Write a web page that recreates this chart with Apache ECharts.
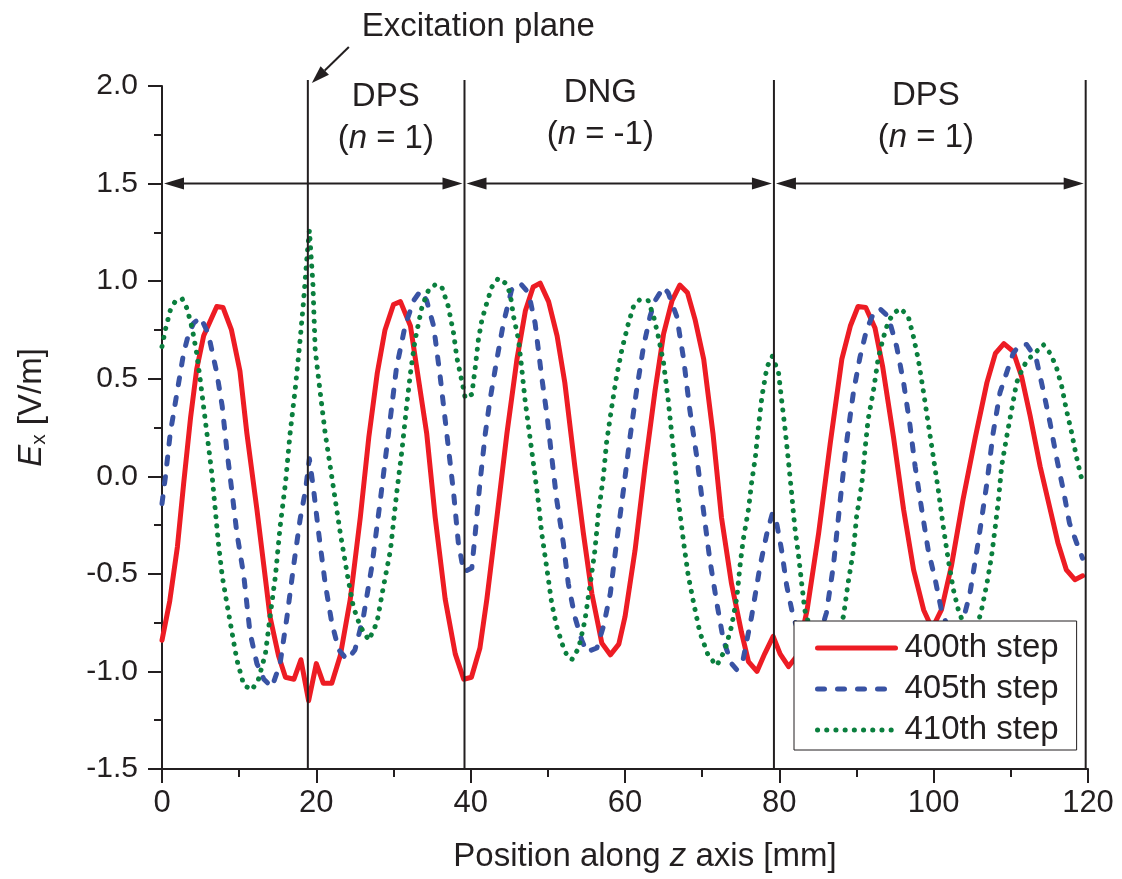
<!DOCTYPE html>
<html><head><meta charset="utf-8">
<script src="https://cdn.jsdelivr.net/npm/echarts@6/dist/echarts.min.js"></script>
<style>html,body{margin:0;padding:0;background:#fff}#c{width:1122px;height:879px}</style>
</head><body><div id="c"></div>
<script>
// ---------- data ----------
const step400 = [[0,-0.84],[1.0,-0.64],[2.0,-0.36],[2.8,-0.04],[3.7,0.30],[4.5,0.55],[5.4,0.72],[6.3,0.80],[7.1,0.87],[7.9,0.865],[9.0,0.75],[10.1,0.54],[11.0,0.22],[12.3,-0.17],[13.2,-0.46],[14.0,-0.72],[15.1,-0.92],[16.0,-1.03],[17.1,-1.04],[18.0,-0.94],[19.0,-1.15],[20.0,-0.96],[20.9,-1.06],[22.0,-1.06],[23.1,-0.92],[24.4,-0.63],[25.7,-0.21],[26.8,0.20],[27.9,0.53],[28.9,0.75],[30.0,0.88],[30.9,0.895],[32.2,0.77],[33.0,0.56],[34.3,0.22],[35.4,-0.21],[36.7,-0.63],[38.0,-0.91],[39.1,-1.04],[40.1,-1.03],[41.2,-0.88],[42.1,-0.63],[43.4,-0.21],[44.7,0.22],[46.0,0.60],[47.1,0.85],[48.1,0.97],[49.0,0.99],[50.1,0.895],[51.2,0.72],[52.2,0.48],[53.5,0.05],[54.6,-0.29],[55.7,-0.60],[57.0,-0.855],[58.1,-0.915],[59.2,-0.86],[60.0,-0.72],[61.3,-0.38],[62.6,0.05],[63.9,0.44],[65.0,0.73],[66.1,0.90],[67.1,0.98],[68.1,0.94],[69.1,0.80],[70.2,0.60],[71.4,0.22],[72.5,-0.21],[73.8,-0.55],[75.1,-0.80],[76.0,-0.95],[77.1,-1.00],[78.1,-0.91],[79.2,-0.82],[80.1,-0.91],[81.2,-0.975],[82.3,-0.92],[83.6,-0.685],[85.1,-0.29],[86.6,0.17],[88.1,0.60],[89.2,0.77],[90.2,0.87],[91.2,0.865],[92.4,0.76],[93.4,0.56],[94.8,0.20],[96.1,-0.17],[97.4,-0.48],[98.7,-0.685],[99.8,-0.78],[101.0,-0.685],[102.3,-0.46],[103.8,-0.12],[105.4,0.20],[106.9,0.48],[108.0,0.63],[109.1,0.68],[110.3,0.64],[111.4,0.51],[112.5,0.31],[113.8,0.05],[115.1,-0.17],[116.1,-0.34],[117.2,-0.48],[118.3,-0.53],[119.3,-0.51]];

const step405 = [[0,-0.14],[0.45,0.0],[1.07,0.22],[1.95,0.43],[2.8,0.63],[3.45,0.73],[4.1,0.785],[5.0,0.815],[6.0,0.73],[7.1,0.53],[7.8,0.36],[8.4,0.135],[9.1,-0.09],[9.7,-0.29],[10.6,-0.51],[11.4,-0.80],[12.3,-0.96],[13.2,-1.04],[14.25,-1.08],[15.3,-0.96],[16.2,-0.72],[17.05,-0.46],[17.9,-0.22],[18.6,-0.07],[19.1,0.09],[19.65,-0.07],[20.3,-0.29],[21.15,-0.55],[22.0,-0.75],[22.9,-0.89],[24.0,-0.94],[25.0,-0.89],[26.1,-0.72],[27.2,-0.46],[28.3,-0.12],[29.35,0.22],[30.4,0.56],[31.5,0.77],[32.6,0.90],[33.5,0.95],[34.3,0.90],[35.2,0.77],[36.05,0.51],[36.9,0.22],[37.8,-0.09],[38.4,-0.34],[39.1,-0.49],[40.15,-0.47],[40.6,-0.29],[41.2,-0.035],[41.9,0.22],[42.5,0.39],[43.4,0.60],[44.25,0.785],[45.3,0.955],[46.4,0.99],[47.5,0.94],[48.35,0.785],[49.2,0.51],[49.9,0.31],[50.5,0.10],[51.15,-0.12],[52.0,-0.34],[52.65,-0.55],[53.5,-0.72],[54.4,-0.84],[55.05,-0.90],[56.35,-0.88],[57.2,-0.77],[58.1,-0.60],[58.9,-0.34],[59.8,-0.07],[60.65,0.20],[61.5,0.44],[62.4,0.665],[63.25,0.82],[63.9,0.90],[65.0,0.97],[65.6,0.94],[66.7,0.82],[67.6,0.60],[68.4,0.34],[69.3,0.10],[70.15,-0.17],[71.0,-0.43],[71.9,-0.65],[72.75,-0.84],[73.8,-0.96],[74.45,-0.99],[75.3,-0.94],[76.4,-0.72],[77.5,-0.46],[78.4,-0.29],[79.1,-0.19],[79.65,-0.24],[80.3,-0.38],[80.95,-0.56],[81.8,-0.72],[82.7,-0.82],[83.7,-0.87],[84.8,-0.84],[85.5,-0.78],[86.1,-0.70],[87.0,-0.46],[87.9,-0.12],[88.7,0.17],[89.6,0.43],[90.45,0.61],[91.3,0.75],[92.2,0.835],[93.0,0.86],[94.1,0.82],[95.2,0.665],[96.1,0.48],[96.9,0.27],[97.6,0.05],[98.45,-0.17],[99.3,-0.38],[100.2,-0.53],[101.0,-0.685],[101.8,-0.77],[102.8,-0.80],[103.8,-0.74],[104.7,-0.60],[105.8,-0.33],[106.9,-0.035],[107.7,0.22],[108.6,0.43],[109.45,0.53],[110.3,0.63],[111.2,0.675],[112.05,0.675],[113.3,0.60],[114.2,0.44],[115.1,0.27],[115.9,0.10],[116.8,-0.07],[117.6,-0.24],[118.7,-0.36],[119.3,-0.42]];

const step410 = [[0,0.665],[0.43,0.75],[1.07,0.85],[1.7,0.895],[2.6,0.91],[3.24,0.86],[3.9,0.76],[4.5,0.63],[5.0,0.48],[5.6,0.29],[6.04,0.15],[6.5,0.0],[6.9,-0.17],[7.3,-0.34],[7.8,-0.51],[8.4,-0.65],[9.07,-0.80],[9.7,-0.94],[10.6,-1.07],[11.65,-1.095],[12.5,-1.04],[13.4,-0.91],[14.0,-0.72],[14.7,-0.51],[15.3,-0.26],[16.0,-0.035],[16.6,0.22],[17.3,0.46],[17.9,0.70],[18.35,0.90],[18.8,1.13],[19.1,1.26],[19.55,0.99],[19.85,0.65],[20.5,0.43],[21.15,0.22],[21.8,0.05],[22.45,-0.12],[23.1,-0.29],[24.0,-0.50],[24.8,-0.67],[25.7,-0.77],[26.8,-0.84],[27.85,-0.75],[28.7,-0.565],[29.6,-0.38],[30.4,-0.09],[31.1,0.135],[31.7,0.36],[32.2,0.53],[32.8,0.70],[33.7,0.87],[34.55,0.955],[35.5,0.985],[36.3,0.965],[37.1,0.87],[37.8,0.73],[38.2,0.61],[38.85,0.49],[39.3,0.40],[40.15,0.42],[40.6,0.56],[41.0,0.70],[41.45,0.80],[42.1,0.89],[42.75,0.97],[43.6,1.015],[44.5,0.99],[45.1,0.94],[45.55,0.82],[46.2,0.70],[46.6,0.56],[47.05,0.39],[47.5,0.255],[47.9,0.135],[48.35,0.0],[48.8,-0.14],[49.2,-0.29],[49.9,-0.48],[50.5,-0.65],[51.15,-0.77],[52.2,-0.90],[53.1,-0.94],[54.0,-0.88],[54.8,-0.74],[55.5,-0.55],[56.1,-0.38],[56.55,-0.19],[57.2,0.0],[57.6,0.17],[58.3,0.36],[58.9,0.51],[59.6,0.65],[60.45,0.785],[61.1,0.87],[61.9,0.905],[63.0,0.90],[63.7,0.82],[64.3,0.72],[65.0,0.58],[65.6,0.39],[66.1,0.20],[66.5,0.05],[66.9,-0.12],[67.6,-0.34],[68.2,-0.51],[68.9,-0.65],[69.7,-0.80],[70.8,-0.92],[71.9,-0.97],[72.95,-0.89],[73.8,-0.77],[74.5,-0.62],[74.9,-0.46],[75.3,-0.33],[76.0,-0.17],[76.4,-0.035],[76.9,0.10],[77.3,0.255],[77.75,0.41],[78.4,0.56],[79.1,0.615],[79.9,0.53],[80.3,0.39],[80.75,0.24],[81.2,0.07],[81.6,-0.09],[82.0,-0.26],[82.5,-0.41],[82.9,-0.55],[83.3,-0.685],[84.0,-0.78],[85.0,-0.84],[86.2,-0.86],[87.3,-0.80],[88.3,-0.72],[88.9,-0.55],[89.6,-0.38],[90.0,-0.21],[90.7,-0.035],[91.1,0.135],[91.5,0.29],[92.2,0.44],[92.8,0.60],[93.4,0.70],[94.1,0.79],[94.8,0.835],[95.7,0.86],[96.7,0.82],[97.35,0.72],[98.0,0.60],[98.65,0.44],[99.3,0.27],[99.95,0.10],[100.6,-0.07],[101.25,-0.26],[101.9,-0.43],[102.55,-0.58],[103.2,-0.685],[104.0,-0.77],[105.0,-0.80],[105.7,-0.76],[106.2,-0.685],[106.9,-0.55],[107.5,-0.41],[107.95,-0.27],[108.4,-0.12],[108.8,0.05],[109.45,0.20],[110.1,0.34],[110.75,0.48],[111.6,0.56],[112.25,0.60],[113.1,0.63],[114.2,0.675],[115.1,0.63],[115.9,0.56],[116.6,0.46],[117.2,0.34],[117.9,0.22],[118.5,0.10],[119.0,0.015],[119.3,-0.03]];

const seriesNames = ['400th step','405th step','410th step'];
const excitationZ = 18.9;
const interfaces = [39.2, 79.3, 119.7];
const arrowSpans = [[0,39.2],[39.2,79.3],[79.3,119.7]];
const arrowLevel = 1.5;
const regionNames = ['DPS','DNG','DPS'];
const regionIndex = ['1','-1','1'];
const regionCenterZ = [29.0, 56.8, 99.0];
const xTicks = {min:0, max:120, interval:20};
const yTicks = {min:-1.5, max:2.0, interval:0.5};

// ---------- styles ----------
const INK = '#231f20';
const FONT = '"Liberation Sans", Arial, Helvetica, sans-serif';
const COLORS = ['#ed1c24', '#3953a4', '#0a7f3e'];
const DASHES = ['solid', [7,13], [0.1,9.1]];

const chart = echarts.init(document.getElementById('c'), null, {renderer:'canvas'});

function axisCommon(){
  return {
    axisLine:{show:true, onZero:false, lineStyle:{color:INK, width:2}},
    axisTick:{show:true, inside:false, length:14, lineStyle:{color:INK, width:2}},
    minorTick:{show:true, splitNumber:2, length:8, lineStyle:{color:INK, width:2}},
    splitLine:{show:false}, minorSplitLine:{show:false}
  };
}

const datasets = [step400, step405, step410];

chart.setOption({
  animation:false,
  backgroundColor:'#fff',
  grid:{left:162, right:34, top:86, bottom:110, containLabel:false},
  xAxis:Object.assign({type:'value', min:xTicks.min, max:xTicks.max, interval:xTicks.interval,
    axisLabel:{fontSize:31, color:INK, fontFamily:FONT, margin:19}}, axisCommon()),
  yAxis:Object.assign({type:'value', min:yTicks.min, max:yTicks.max, interval:yTicks.interval,
    axisLabel:{fontSize:30, color:INK, fontFamily:FONT, margin:24, formatter:v=>v.toFixed(1)}}, axisCommon()),
  legend:{
    orient:'vertical', left:794, top:621,
    padding:[7,18,0,21], itemGap:1, itemWidth:78, itemHeight:20,
    backgroundColor:'#fff', borderColor:INK, borderWidth:1,
    textStyle:{fontSize:33, color:INK, fontFamily:FONT, lineHeight:40, padding:[0,0,0,4]},
    itemStyle:{color:'rgba(0,0,0,0)', borderWidth:0, opacity:0},
    lineStyle:{width:5, cap:'round'},
    data:seriesNames.map((n,i)=>({name:n, lineStyle:{width:5, color:COLORS[i], type:DASHES[i], cap:'round'}})),
    z:10
  },
  series:seriesNames.map((n,i)=>({
    name:n, type:'line', data:datasets[i], symbol:'none', showSymbol:false, z:3,
    lineStyle:{color:COLORS[i], width:5, type:DASHES[i], cap:'round', join:'round'},
    itemStyle:{color:COLORS[i]}
  }))
});

function P(x,y){ return chart.convertToPixel({gridIndex:0},[x,y]); }

function buildGraphics(){
  const g = [];
  const yTop = P(0, yTicks.max)[1];
  const yBot = P(0, yTicks.min)[1];
  // vertical boundary lines
  [excitationZ].concat(interfaces).forEach(b=>{
    const x = P(b,0)[0];
    g.push({type:'line', z:50, shape:{x1:x, y1:yBot, x2:x, y2:yTop-6}, style:{stroke:INK, lineWidth:2}});
  });
  // double-headed arrows
  const L = 20, W = 6;
  arrowSpans.forEach(s=>{
    const a = P(s[0], arrowLevel), b = P(s[1], arrowLevel);
    const xa = a[0]+2, xb = b[0]-2, y = a[1];
    g.push({type:'line', z:50, shape:{x1:xa+L-2, y1:y, x2:xb-L+2, y2:y}, style:{stroke:INK, lineWidth:2}});
    g.push({type:'polygon', z:50, shape:{points:[[xa,y],[xa+L,y-W],[xa+L,y+W]]}, style:{fill:INK}});
    g.push({type:'polygon', z:50, shape:{points:[[xb,y],[xb-L,y-W],[xb-L,y+W]]}, style:{fill:INK}});
  });
  // region labels
  const nameDy = [11, 7, 10], idxDy = [53, 49, 52];
  regionNames.forEach((nm,i)=>{
    const cx = P(regionCenterZ[i],0)[0];
    g.push({type:'text', z:50, style:{x:cx, y:yTop+nameDy[i], text:nm, fill:INK, font:'33px '+FONT, textAlign:'center', textVerticalAlign:'middle'}});
    g.push({type:'text', z:50, style:{x:cx, y:yTop+idxDy[i], text:'({i|n} = '+regionIndex[i]+')', fill:INK, font:'33px '+FONT,
      textAlign:'center', textVerticalAlign:'middle',
      rich:{i:{fontStyle:'italic', fontSize:33, fontFamily:FONT, fill:INK}}}});
  });
  // excitation plane annotation
  const ex = P(excitationZ,0)[0];
  const tip = [ex+4, yTop-3];
  const tail = [tip[0]+37, tip[1]-36];
  const dx = tail[0]-tip[0], dy = tail[1]-tip[1], len = Math.hypot(dx,dy);
  const ux = dx/len, uy = dy/len, AL = 18, AW = 6;
  const bx = tip[0]+ux*AL, by = tip[1]+uy*AL;
  g.push({type:'line', z:50, shape:{x1:bx, y1:by, x2:tail[0], y2:tail[1]}, style:{stroke:INK, lineWidth:2}});
  g.push({type:'polygon', z:50, shape:{points:[tip,[bx-uy*AW, by+ux*AW],[bx+uy*AW, by-ux*AW]]}, style:{fill:INK}});
  g.push({type:'text', z:50, style:{x:tail[0]+13, y:27, text:'Excitation plane', fill:INK, font:'33px '+FONT, textAlign:'left', textVerticalAlign:'middle'}});
  // axis titles
  const xMid = (P(xTicks.min,0)[0] + P(xTicks.max,0)[0])/2;
  g.push({type:'text', z:50, style:{x:xMid+20, y:yBot+88, text:'Position along {i|z} axis [mm]', fill:INK, font:'33px '+FONT,
    textAlign:'center', textVerticalAlign:'middle', rich:{i:{fontStyle:'italic', fontSize:33, fontFamily:FONT, fill:INK}}}});
  const yMid = (yTop+yBot)/2;
  g.push({type:'text', z:50, x:32, y:yMid-20, rotation:Math.PI/2,
    style:{x:0, y:0, text:'{e|E}{s|x}{r| [V/m]}', textAlign:'center', textVerticalAlign:'middle',
      rich:{e:{fontStyle:'italic', fontSize:33, fontFamily:FONT, fill:INK, lineHeight:36, verticalAlign:'middle'},
            s:{fontSize:21, fontFamily:FONT, fill:INK, lineHeight:36, verticalAlign:'bottom'},
            r:{fontSize:33, fontFamily:FONT, fill:INK, lineHeight:36, verticalAlign:'middle'}}}});
  return g;
}

chart.setOption({graphic:buildGraphics()});
</script>
</body></html>
